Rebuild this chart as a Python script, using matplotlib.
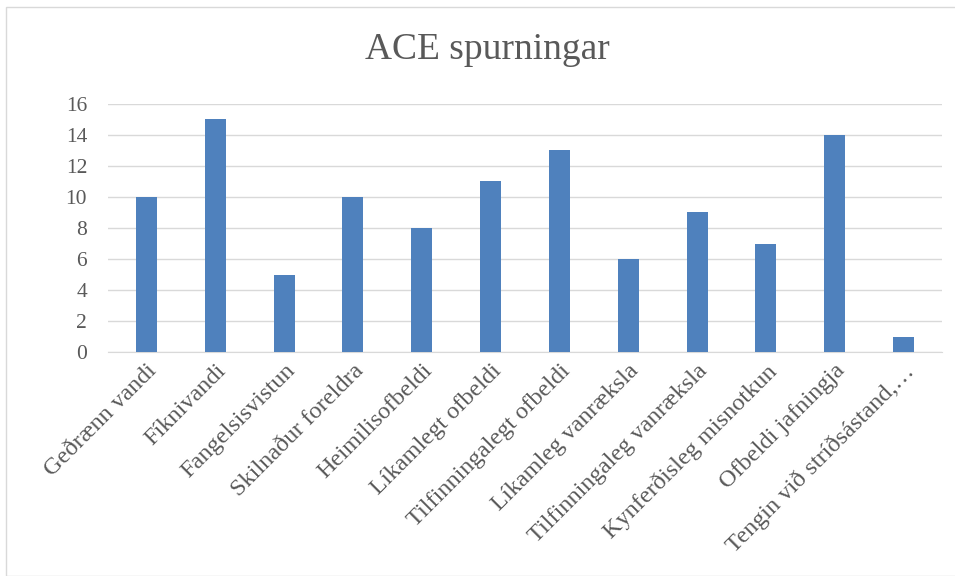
import matplotlib.pyplot as plt
from matplotlib.patches import Rectangle

categories = ['Geðrænn vandi', 'Fíknivandi', 'Fangelsisvistun', 'Skilnaður foreldra',
              'Heimilisofbeldi', 'Líkamlegt ofbeldi', 'Tilfinningalegt ofbeldi',
              'Líkamleg vanræksla', 'Tilfinningaleg vanræksla', 'Kynferðisleg misnotkun',
              'Ofbeldi jafningja', 'Tengin við stríðsástand,…']
values = [10, 15, 5, 10, 8, 11, 13, 6, 9, 7, 14, 1]
yticks = [0, 2, 4, 6, 8, 10, 12, 14, 16]

plt.rcParams['font.family'] = ['Liberation Serif', 'DejaVu Serif']

fig = plt.figure(figsize=(9.55, 5.76), dpi=100)
ax = fig.add_axes([108 / 955, 1 - 352 / 576, (942 - 108) / 955, (352 - 104) / 576])

x = range(len(categories))
ax.bar(x, values, width=0.305, color='#4F81BD', zorder=3)

ax.set_xlim(-0.56, len(categories) - 0.44)
ax.set_ylim(0, 16)
ax.set_yticks(yticks)
ax.set_xticks(list(x))
ax.set_xticklabels(categories, rotation=45, ha='right', rotation_mode='anchor',
                   fontsize=17.5, color='#595959')
ax.tick_params(axis='y', labelsize=15.5, labelcolor='#595959', length=0, pad=15)
ax.tick_params(axis='x', length=0, pad=6)
ax.grid(axis='y', color='#D9D9D9', linewidth=1, zorder=0)
for s in ['top', 'right', 'left']:
    ax.spines[s].set_visible(False)
ax.spines['bottom'].set_color('#D9D9D9')

fig.text(487 / 955, 1 - 50 / 576, 'ACE spurningar', ha='center', va='center',
         fontsize=27, color='#595959')

# chart frame
fig.patches.append(Rectangle((6 / 955, 0), 1.2, 1 - 7 / 576, transform=fig.transFigure,
                             fill=False, edgecolor='#D9D9D9', linewidth=1))

fig.savefig('out.png', dpi=100)
